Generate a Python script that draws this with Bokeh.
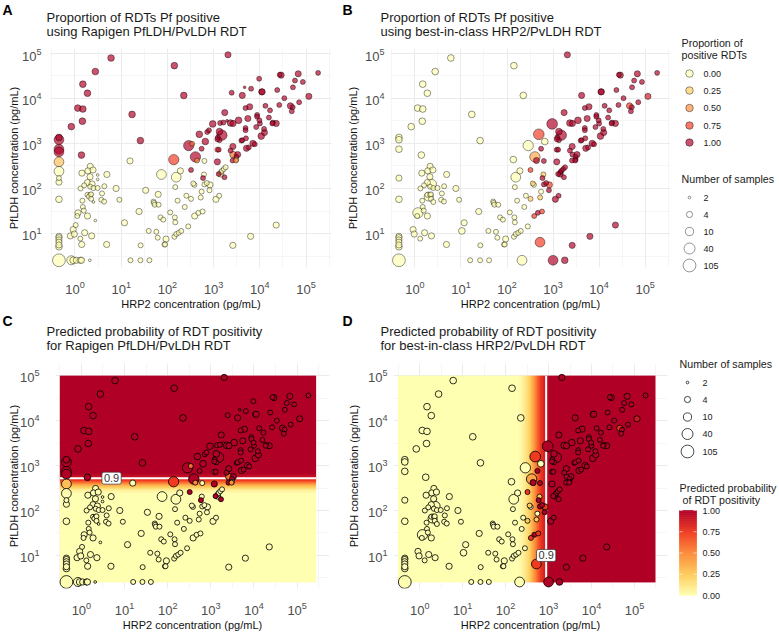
import numpy as np
from bokeh.plotting import figure
from bokeh.layouts import row, column
from bokeh.models import Range1d, FixedTicker, Label, LinearColorMapper, ColumnDataSource
from bokeh.core.properties import value
from bokeh.embed import file_html
from bokeh.resources import INLINE

log10_hrp2 = [
 .78,.44,.17,.27,.06,.17,.16,-.08,1.235,1.415,.14,2.15,2.354,
 -.347,-.347,-.347,-.347,-.347,-.347,-.347,-.347,-.347,-.347,-.347,-.347,-.347,-.347,-.347,-.347,
 -.08,-.04,.03,.115,.14,.32,1.2,1.415,1.61,2.326,3.0,3.254,
 .33,.28,.39,.15,.325,.49,.69,.49,.12,.20,.27,.37,.33,.40,.49,.635,.89,.585,.27,.33,.30,.35,.16,.35,.40,.57,.63,.96,.17,.19,.065,.05,.27,.44,.015,-.04,-.10,-.015,.115,.21,.36,.145,.685,
 1.07,1.02,1.386,1.19,1.53,1.87,1.80,1.70,1.71,1.725,1.81,1.85,1.91,1.595,1.76,1.79,1.97,1.935,1.95,1.42,2.06,2.16,2.17,2.15,2.19,2.245,2.30,2.45,2.375,2.22,2.41,2.51,2.59,2.67,2.76,2.72,2.74,2.585,2.56,2.80,2.17,2.19,2.28,2.79,2.85,2.92,2.91,3.05,3.12,3.415,3.80,4.354,2.717,3.16,3.18,3.22,3.26,3.155,3.235,3.11,2.80,2.64,2.606,2.535,2.46,2.137,2.51,2.69,2.82,2.74,2.77,
 2.86,2.90,2.98,3.14,3.21,3.29,3.365,3.42,3.54,3.126,3.18,3.09,3.126,3.08,3.08,3.11,3.08,3.365,3.415,3.42,3.52,3.49,3.49,3.41,3.48,3.60,3.62,3.70,3.71,3.76,3.85,3.89,3.69,3.69,3.92,4.00,4.09,4.10,4.03,3.94,3.94,3.99,4.195,4.28,4.354,4.27,3.74,3.24,3.69,3.78,4.12,4.22,3.62,3.39,3.81,3.67,3.985,4.04,4.05,4.375,4.715,4.43,4.46,4.83,5.26,4.76,4.93,4.53,5.06,4.42,4.66,4.71,4.69,4.85,3.31,
]
log10_pfldh = [
 4.89,4.59,4.31,4.11,3.78,3.76,3.49,3.37,3.64,3.06,2.74,4.72,4.06,
 3.13,3.08,2.87,2.81,2.59,2.38,2.23,2.14,1.76,.94,.91,.86,.81,.75,.71,.41,
 .41,.41,.41,.41,.41,.41,.41,.41,.41,.41,.41,.41,
 2.49,2.39,2.41,2.34,2.26,2.30,2.31,2.20,2.00,2.07,2.13,2.10,2.04,2.01,2.01,2.05,2.00,1.89,1.86,1.86,1.82,1.87,1.73,1.77,1.70,1.75,1.71,1.75,1.59,1.51,1.46,1.39,1.39,1.29,1.19,1.09,.95,.99,.89,1.02,.95,.76,.76,
 1.24,1.06,1.49,2.61,1.96,2.31,1.87,1.71,1.68,1.64,1.64,1.36,1.31,1.06,1.04,.91,.88,.76,.76,.74,1.47,1.36,1.25,.93,.99,1.02,1.06,1.16,1.59,1.73,1.84,1.77,1.39,1.46,1.49,1.80,1.93,2.08,2.11,2.09,2.03,2.25,2.39,2.31,2.12,2.08,1.96,1.76,1.84,.74,.94,1.19,.81,2.36,2.39,2.43,2.47,2.32,2.25,2.32,2.61,2.62,2.70,2.99,2.95,2.64,2.41,3.20,3.04,2.88,2.23,
 3.25,3.29,3.43,3.45,3.46,3.50,3.45,3.44,3.51,3.26,3.18,3.13,3.07,3.09,2.86,2.86,2.59,2.84,2.93,2.75,2.75,2.70,2.64,2.62,2.62,3.06,3.07,3.11,2.89,2.91,3.00,2.98,3.34,3.29,3.36,3.44,3.32,3.24,3.16,3.63,3.59,3.51,3.57,3.46,3.44,3.44,3.55,3.68,3.78,3.81,3.83,3.73,4.06,4.12,4.21,4.24,4.43,4.14,4.14,4.18,4.24,4.52,4.51,4.54,4.56,4.39,4.36,4.00,4.04,3.85,3.83,3.80,3.71,3.91,4.96,
]
samples_rapigen = [
 5,5,5,5,5,5,5,5,5,5,5,5,5,
 5,22,22,22,22,22,3,4,5,4,4,4,4,4,5,105,
 15,5,4,4,4,2,3,3,3,0,0,0,
 4,4,4,4,4,2,4,2,3,3,4,4,3,3,3,3,4,3,3,3,3,3,3,3,2,3,3,3,3,3,4,3,4,2,3,4,4,4,3,4,4,4,4,
 4,0,4,4,4,22,4,3,3,3,3,3,3,3,3,3,4,3,3,3,3,3,3,3,3,3,3,3,3,3,3,3,4,3,3,3,3,3,3,3,3,22,4,3,3,4,3,4,3,4,4,4,0,3,3,3,3,4,3,3,3,3,30,3,28,28,3,5,5,3,3,
 3,3,5,3,3,2,5,4,5,5,28,3,3,3,3,3,4,3,4,5,4,3,3,3,3,3,3,3,4,3,4,3,3,3,3,3,3,4,5,3,3,3,3,3,4,3,4,4,3,4,3,3,4,3,3,2,3,4,4,3,3,3,4,4,3,3,3,3,4,3,4,3,3,3,4,
]
positive_rapigen = [
 1,1,1,1,1,1,1,1,1,1,1,1,1,
 1,1,1,1,.3,0,0,0,0,0,0,0,0,0,0,0,
 0,0,0,0,0,0,0,0,0,0,0,0,
 0,0,0,0,0,0,0,0,0,0,0,0,0,0,0,0,0,0,0,0,0,0,0,0,0,0,0,0,0,0,0,0,0,0,0,0,0,0,0,0,0,0,0,
 0,0,0,0,0,0,0,0,0,0,0,0,0,0,0,0,0,0,0,0,0,0,0,0,0,0,0,0,0,0,0,0,0,0,0,0,0,0,0,0,0,0,0,0,0,0,0,0,0,0,0,0,0,0,0,0,0,0,1,1,0,.5,1,.6,1,.75,1,1,1,1,1,
 1,1,1,1,1,1,1,1,1,1,1,1,1,1,.7,1,1,1,1,.6,1,1,.25,1,.5,1,1,1,1,1,1,1,1,1,1,1,1,1,1,1,1,1,1,1,1,1,1,1,1,1,1,1,1,1,1,1,1,1,1,1,1,1,1,1,1,1,1,1,1,1,1,1,1,1,1,
]
samples_best = [
 5,5,5,5,5,5,5,5,5,5,5,5,5,
 5,5,5,0,0,0,4,0,5,4,4,4,4,4,5,105,
 0,0,0,0,0,0,3,3,3,22,22,5,
 4,4,4,4,4,0,4,0,3,3,4,15,3,3,3,3,4,3,3,3,15,3,3,3,3,3,3,3,3,3,28,3,4,0,0,4,0,4,3,4,4,0,4,
 4,5,4,0,0,0,0,3,3,3,3,3,3,3,3,3,4,3,3,3,3,3,3,3,3,3,3,3,3,3,3,3,3,3,3,3,3,3,3,3,3,22,4,3,3,4,3,4,3,4,4,4,22,3,3,3,3,4,3,3,3,4,30,0,28,5,3,35,5,3,3,
 0,0,35,0,0,0,5,4,5,5,28,3,3,3,3,3,4,3,4,3,4,3,3,3,3,3,3,3,4,3,4,3,3,3,3,3,3,4,5,3,3,3,3,3,4,3,4,4,3,4,3,3,4,0,0,0,0,4,4,3,3,3,4,4,3,3,3,3,4,3,4,3,3,3,4,
]
positive_best = [
 0,0,0,0,0,0,0,0,0,0,0,0,0,
 0,0,0,0,0,0,0,0,0,0,0,0,0,0,0,0,
 0,0,0,0,0,0,0,0,0,0,1,1,
 0,0,0,0,0,0,0,0,0,0,0,0,0,0,0,0,0,0,0,0,0,0,0,0,0,0,0,0,0,0,0,0,0,0,0,0,0,0,0,0,0,0,0,
 0,0,0,0,0,0,0,0,0,0,0,0,0,0,0,0,0,0,0,0,0,0,0,0,0,0,0,0,0,0,0,.25,.75,1,.75,.25,0,0,.25,1,0,0,0,.25,1,.75,1,1,1,1,1,1,.75,1,1,1,1,1,1,1,1,1,.4,0,0,0,.75,.75,0,1,1,
 1,1,1,1,1,1,1,1,1,1,1,1,1,1,1,1,1,1,1,1,1,1,1,1,1,1,1,1,1,1,1,1,1,1,1,1,1,1,1,1,1,1,1,1,1,1,1,1,1,1,1,1,1,1,1,1,1,1,1,1,1,1,1,1,1,1,1,1,.9,1,.75,1,1,1,1,
]

# ---- model surfaces: probability against log10 concentration ----
surface_c_log10 = [.40, 2.36, 2.45, 2.55, 2.64, 2.72, 2.82, 5.0]
surface_c_prob = [0, 0, .08, .35, .7, .9, 1, 1]
surface_d_log10 = [-.505, 2.28, 2.42, 2.55, 2.68, 2.80, 2.94, 3.02, 5.49]
surface_d_prob = [0, 0, .08, .22, .5, .75, .9, 1, 1]
contour_pfldh = 525
contour_hrp2 = 880

# ---- text and legend content ----
x_label = "HRP2 concentration (pg/mL)"
y_label = "PfLDH concentration (pg/mL)"
x_ticks = [1, 10, 100, 1000, 10000, 100000]
y_ticks = [10, 100, 1000, 10000, 100000]
legend_props = [0.0, 0.25, 0.5, 0.75, 1.0]
legend_samples = [2, 4, 10, 40, 105]
bar_labels = [0.0, 0.25, 0.5, 0.75, 1.0]
palette_stops = ["#FFFFB2", "#FECC5C", "#FD8D3C", "#F03B20", "#B10026"]
size_n = [2, 3, 4, 10, 40, 105]
size_px = [2.7, 5, 6.2, 8.2, 11, 12.8]


def size_of(n):
    return np.interp(np.log(np.asarray(n, float)), np.log(size_n), size_px)


def hex_rgb(h):
    return [int(h[i:i + 2], 16) for i in (1, 3, 5)]


rgb = np.array([hex_rgb(c) for c in palette_stops], float)
pos = np.linspace(0, 1, len(palette_stops))
palette = ["#%02x%02x%02x" % tuple(int(round(np.interp(t, pos, rgb[:, k]))) for k in range(3))
           for t in np.linspace(0, 1, 256)]
mapper = LinearColorMapper(palette=palette, low=0, high=1)
FONT = "Liberation Sans"


def header(w, h, letter, letter_x, letter_y, titles, title_x, title_y):
    s = figure(width=w, height=h, x_range=Range1d(0, w), y_range=Range1d(h, 0),
               output_backend="svg", toolbar_location=None, min_border=0, frame_align=False)
    s.axis.visible = False
    s.grid.visible = False
    s.outline_line_color = None
    s.text([letter_x], [letter_y], text=[letter], text_font=value(FONT), text_font_size="14px",
           text_font_style="bold", text_baseline="middle", text_color="#000000")
    s.text([title_x] * len(titles), title_y, text=titles, text_font=value(FONT), text_font_size="13px",
           text_baseline="middle", text_color="#1a1a1a")
    return s


def panel(w, h, left, right, bottom, xr, yr, tick_gap, label_gap):
    p = figure(width=w, height=h, x_axis_type="log", y_axis_type="log",
               x_range=Range1d(10 ** xr[0], 10 ** xr[1]), y_range=Range1d(10 ** yr[0], 10 ** yr[1]),
               output_backend="svg", toolbar_location=None, frame_align=False,
               min_border_left=left, min_border_right=right, min_border_top=0, min_border_bottom=bottom,
               x_axis_label=x_label, y_axis_label=y_label)
    p.outline_line_color = None
    p.xaxis.ticker = FixedTicker(ticks=x_ticks, minor_ticks=[10 ** (k - .5) for k in range(0, 7)])
    p.yaxis.ticker = FixedTicker(ticks=y_ticks, minor_ticks=[10 ** (k + .5) for k in range(0, 5)])
    for ax in (p.xaxis, p.yaxis):
        ax.axis_line_color = None
        ax.major_tick_line_color = None
        ax.minor_tick_line_color = None
        ax.major_label_text_font = FONT
        ax.major_label_text_font_size = "13px"
        ax.major_label_text_color = "#4D4D4D"
        ax.axis_label_text_font = FONT
        ax.axis_label_text_font_size = "11px"
        ax.axis_label_text_font_style = "normal"
        ax.axis_label_text_color = "#111111"
    p.xaxis.major_label_standoff = 7
    p.yaxis.major_label_standoff = tick_gap
    p.xaxis.axis_label_standoff = 1
    p.yaxis.axis_label_standoff = label_gap
    for g in (p.xgrid, p.ygrid):
        g.grid_line_color = "#EBEBEB"
        g.grid_line_width = 1
        g.minor_grid_line_color = "#F0F0F0"
        g.minor_grid_line_width = .6
    return p


def points(p, n, prop, fill_alpha, line_alpha, line_width):
    n = np.asarray(n)
    keep = n > 0
    order = np.argsort(-n[keep], kind="stable")
    src = ColumnDataSource(dict(
        x=(10.0 ** np.asarray(log10_hrp2))[keep][order],
        y=(10.0 ** np.asarray(log10_pfldh))[keep][order],
        s=size_of(n[keep])[order],
        c=np.asarray(prop, float)[keep][order]))
    p.scatter("x", "y", size="s", source=src, marker="circle",
              fill_color={"field": "c", "transform": mapper}, fill_alpha=fill_alpha,
              line_color="#000000", line_alpha=line_alpha, line_width=line_width)


assert len({len(log10_hrp2), len(log10_pfldh), len(samples_rapigen), len(positive_rapigen),
            len(samples_best), len(positive_best)}) == 1

# row 1 spans page y 0..312, row 2 312..633; columns 0..335, 335..672, 672..779
head_a = header(335, 48, "A", 2, 9, ["Proportion of RDTs Pf positive", "using Rapigen PfLDH/PvLDH RDT"], 46, [17, 31])
head_b = header(337, 48, "B", 7, 9, ["Proportion of RDTs Pf positive", "using best-in-class HRP2/PvLDH RDT"], 45, [17, 31])
head_c = header(335, 51, "C", 2, 8, ["Predicted probability of RDT positivity", "for Rapigen PfLDH/PvLDH RDT"], 46, [19, 33])
head_d = header(337, 51, "D", 7, 8, ["Predicted probability of RDT positivity", "for best-in-class HRP2/PvLDH RDT"], 45, [19, 33])

a = panel(335, 264, 50, 4, 37, (-.53, 5.55), (.25, 5.1), 3, -1)
b = panel(337, 264, 55, 2, 37, (-.53, 5.55), (.25, 5.1), 0, 3)
c = panel(335, 270, 55, 6, 38, (-.60, 5.75), (.265, 5.27), 10, -3)
d = panel(337, 270, 58, 5, 38, (-.61, 5.77), (.265, 5.27), 0, 5)

points(a, samples_rapigen, positive_rapigen, .68, .6, .7)
points(b, samples_best, positive_best, .68, .6, .7)

# model surfaces
grid_c = np.linspace(surface_c_log10[0], surface_c_log10[-1], 500)
img_c = np.interp(grid_c, surface_c_log10, surface_c_prob).reshape(-1, 1)
c.image(image=[img_c], x=10 ** -.5, y=10 ** surface_c_log10[0], dw=10 ** 5.44 - 10 ** -.5,
        dh=10 ** surface_c_log10[-1] - 10 ** surface_c_log10[0], color_mapper=mapper)
grid_d = np.linspace(surface_d_log10[0], surface_d_log10[-1], 600)
img_d = np.interp(grid_d, surface_d_log10, surface_d_prob).reshape(1, -1)
d.image(image=[img_d], x=10 ** surface_d_log10[0], y=10 ** .40, dw=10 ** surface_d_log10[-1] - 10 ** surface_d_log10[0],
        dh=10 ** 5 - 10 ** .40, color_mapper=mapper)
c.line([10 ** -.5, 10 ** 5.44], [contour_pfldh, contour_pfldh], line_color="white", line_width=2)
d.line([contour_hrp2, contour_hrp2], [10 ** .40, 10 ** 5], line_color="white", line_width=2)

points(c, samples_rapigen, positive_rapigen, 1, .9, .9)
points(d, samples_best, positive_best, 1, .9, .9)

for p, lx, ly in ((c, 5, contour_pfldh), (d, contour_hrp2, 10)):
    p.add_layout(Label(x=lx, y=ly, text="0.9", text_font=FONT, text_font_size="11px", text_color="#333333",
                       text_align="center", text_baseline="middle",
                       background_fill_color="white", border_line_color="#333333", border_line_width=.7,
                       padding=2, border_radius=2))

# ---- legend column: its data coordinates are page pixels ----
leg = figure(width=107, height=633, x_range=Range1d(672, 779), y_range=Range1d(633, 0),
             output_backend="svg", toolbar_location=None, min_border=0, frame_align=False)
leg.axis.visible = False
leg.grid.visible = False
leg.outline_line_color = None


def ltext(xs, ys, labels, size="10.7px", color="#1a1a1a"):
    leg.text(xs, ys, text=labels, text_font=value(FONT), text_font_size=size,
             text_baseline="middle", text_color=color)


ltext([681] * 2, [42, 54], ["Proportion of", "positive RDTs"])
prop_y = [73, 90, 107.5, 125, 142]
leg.scatter([689] * 5, prop_y, size=7.5, marker="circle",
            fill_color=[palette[int(v * 255)] for v in legend_props], fill_alpha=.68,
            line_color="#000000", line_alpha=.6, line_width=.7)
ltext([703] * 5, prop_y, ["%.2f" % v for v in legend_props], "9px")

ltext([681], [178], ["Number of samples"])
samp_y = [197, 214, 231, 248, 265]
leg.scatter([689] * 5, samp_y, size=size_of(legend_samples), marker="circle",
            fill_color="white", line_color="#000000", line_alpha=.6, line_width=.7)
ltext([703] * 5, samp_y, [str(v) for v in legend_samples], "9px")

ltext([679], [363], ["Number of samples"])
samp2_y = [382, 399, 416.5, 433.5, 451]
leg.scatter([687] * 5, samp2_y, size=size_of(legend_samples), marker="circle",
            fill_color="white", line_color="#000000", line_alpha=.9, line_width=.8)
ltext([702] * 5, samp2_y, [str(v) for v in legend_samples], "9px")

ltext([679, 682], [487, 499], ["Predicted probability", "of RDT positivity"])
bar_top, bar_bottom = 510, 595
edges = np.linspace(bar_bottom, bar_top, 129)
bar_colors = [palette[i * 2 + 1] for i in range(128)]
leg.quad(left=679, right=696, top=edges[1:], bottom=edges[:-1],
         fill_color=bar_colors, line_color=bar_colors, line_width=.5)
bar_y = [bar_bottom + (bar_top - bar_bottom) * v for v in bar_labels]
leg.segment(x0=[679] * 5, x1=[682] * 5, y0=bar_y, y1=bar_y, line_color="white", line_width=.6)
leg.segment(x0=[693] * 5, x1=[696] * 5, y0=bar_y, y1=bar_y, line_color="white", line_width=.6)
ltext([702] * 5, bar_y, ["%.2f" % v for v in bar_labels], "9px")

root = row(column(column(head_a, a), column(head_c, c)),
           column(column(head_b, b), column(head_d, d)), leg)
open("out.html", "w").write(file_html(root, INLINE))
